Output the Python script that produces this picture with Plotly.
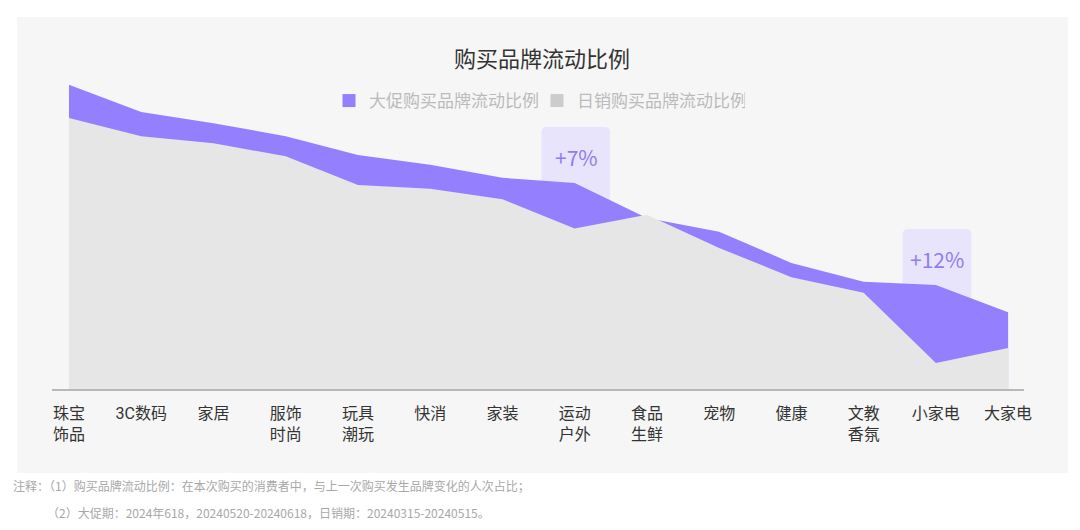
import plotly.graph_objects as go

categories = ["珠宝<br>饰品", "3C数码", "家居", "服饰<br>时尚", "玩具<br>潮玩", "快消", "家装",
              "运动<br>户外", "食品<br>生鲜", "宠物", "健康", "文教<br>香氛", "小家电", "大家电"]
promo_ratio = [46.8, 42.6, 40.9, 38.9, 36.0, 34.5, 32.5, 31.7, 26.3, 24.2, 19.4, 16.5, 16.0, 11.8]
daily_ratio = [41.7, 38.9, 37.8, 35.8, 31.4, 30.8, 29.2, 24.7, 26.8, 21.7, 17.2, 14.8, 4.0, 6.3]
highlight_idx = [7, 12]
series_names = ["大促购买品牌流动比例", "日销购买品牌流动比例"]
title_text = "购买品牌流动比例"
notes = ["注释：（1）购买品牌流动比例：在本次购买的消费者中，与上一次购买发生品牌变化的人次占比；",
         "（2）大促期：2024年618，20240520-20240618，日销期：20240315-20240515。"]

PURPLE = "#9480ff"
GRAY_FILL = "#e6e6e6"
PANEL = "#f6f6f6"
FONT = "Noto Sans CJK SC"
TICK_FONT = "Roboto, Noto Sans CJK SC"

xs = list(range(len(categories)))
fig = go.Figure()
fig.add_trace(go.Scatter(x=xs, y=promo_ratio, mode="none", fill="tozeroy",
                         fillcolor=PURPLE, showlegend=False, hoverinfo="skip"))
fig.add_trace(go.Scatter(x=xs, y=daily_ratio, mode="none", fill="tozeroy",
                         fillcolor=GRAY_FILL, showlegend=False, hoverinfo="skip"))
# legend entries
fig.add_trace(go.Scatter(x=[None], y=[None], mode="markers", name=series_names[0],
                         marker=dict(symbol="square", size=13, color=PURPLE)))
fig.add_trace(go.Scatter(x=[None], y=[None], mode="markers", name=series_names[1],
                         marker=dict(symbol="square", size=13, color="#cccccc")))

L, R, T, B = 52, 56, 64, 141
pw, ph = 1080 - L - R, 530 - T - B
def px2paper_x(px):
    return (px - L) / pw
def px2paper_y(py):
    return (530 - B - py) / ph

shapes = []
# background panel
shapes.append(dict(type="rect", xref="paper", yref="paper", layer="below",
                   x0=px2paper_x(17), x1=px2paper_x(1068), y0=px2paper_y(473), y1=px2paper_y(17),
                   fillcolor=PANEL, line=dict(width=0)))

annotations = []
for i in highlight_idx:
    diff = promo_ratio[i] - daily_ratio[i]
    top = promo_ratio[i] + 8.6
    bot = daily_ratio[i]
    x0, x1 = i - 0.46, i + 0.49
    rx, ry = 0.08, 0.8
    path = (f"M{x0+rx},{top} L{x1-rx},{top} Q{x1},{top} {x1},{top-ry} "
            f"L{x1},{bot} L{x0},{bot} L{x0},{top-ry} Q{x0},{top} {x0+rx},{top} Z")
    shapes.append(dict(type="path", path=path, xref="x", yref="y", layer="below",
                       fillcolor="#e8e4fb", line=dict(width=0)))
    annotations.append(dict(x=i + 0.02, y=promo_ratio[i] + 4.0, xref="x", yref="y",
                            text=f"+{round(diff)}%", showarrow=False,
                            font=dict(family=FONT, size=21, color="#8f7ef2")))

annotations.append(dict(x=px2paper_x(11), y=px2paper_y(485), xref="paper", yref="paper",
                        text=notes[0], showarrow=False, xanchor="left", yanchor="middle",
                        font=dict(family=FONT, size=12, color="#a8a8a8")))
annotations.append(dict(x=px2paper_x(45), y=px2paper_y(512), xref="paper", yref="paper",
                        text=notes[1], showarrow=False, xanchor="left", yanchor="middle",
                        font=dict(family=FONT, size=12, color="#a8a8a8")))

fig.update_layout(
    width=1080, height=530,
    margin=dict(l=L, r=R, t=T, b=B),
    paper_bgcolor="white", plot_bgcolor="rgba(0,0,0,0)",
    title=dict(text=title_text, x=542 / 1080, xanchor="center", y=1 - 59 / 530, yanchor="middle",
               yref="container", xref="container",
               font=dict(family=FONT, size=22, color="#333333")),
    legend=dict(orientation="h", x=px2paper_x(537), xanchor="center", y=px2paper_y(101),
                yanchor="middle", font=dict(family=FONT, size=17, color="#bbbbbb"),
                bgcolor="rgba(0,0,0,0)", itemclick=False, entrywidth=163),
    xaxis=dict(range=[-0.235, 13.22], tickmode="array", tickvals=xs, ticktext=categories,
               showgrid=False, zeroline=False, showline=True, linecolor="#b8b8b8", linewidth=2,
               ticks="", ticklabelstandoff=9,
               tickfont=dict(family=TICK_FONT, size=16, color="#333333")),
    yaxis=dict(range=[0, 50], visible=False, showgrid=False, zeroline=False),
    shapes=shapes, annotations=annotations,
    font=dict(family=FONT),
)
fig.write_html("out.html")
